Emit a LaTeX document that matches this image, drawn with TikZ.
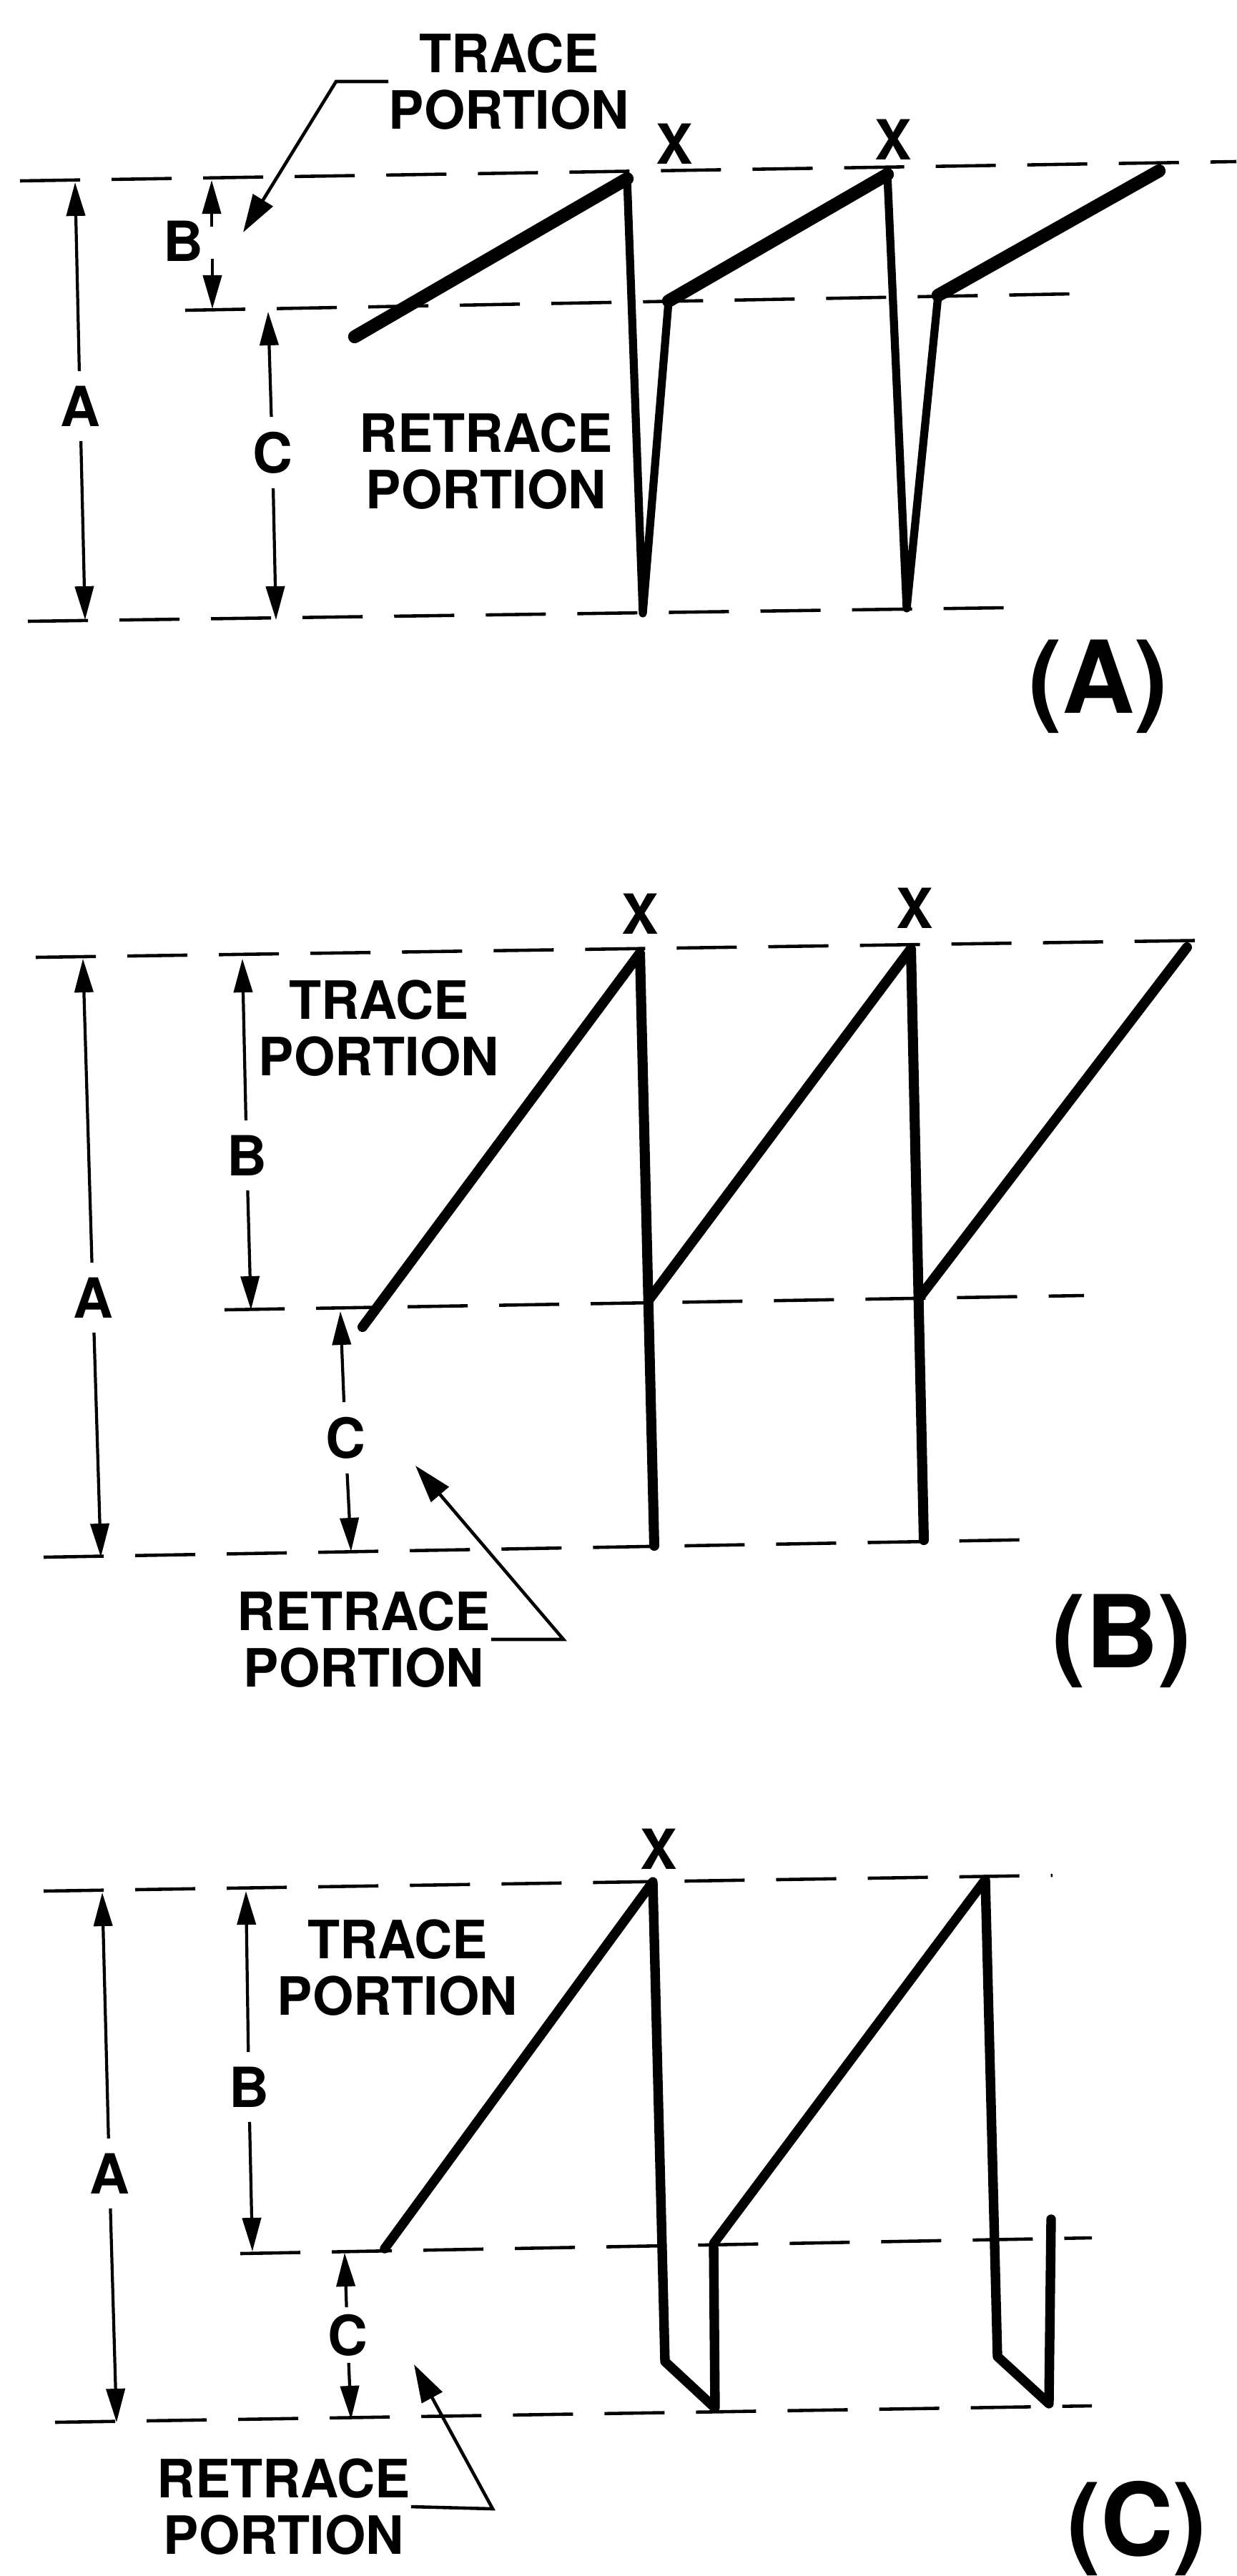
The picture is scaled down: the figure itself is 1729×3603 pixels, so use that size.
\documentclass[tikz,border=0pt]{standalone}
\usepackage{fontspec}
\setmainfont{TeX Gyre Heros}
\usetikzlibrary{arrows.meta}

\begin{document}
\begin{tikzpicture}[x=0.01cm,y=-0.01cm,>={Triangle[length=0.47cm,width=0.26cm]},
  every node/.style={font=\fontsize{21}{22.5}\selectfont\bfseries,inner sep=0pt,align=center}]
\tikzstyle{dsh}=[line width=1.3pt,dash pattern=on 0.84cm off 0.44cm]
\tikzstyle{dim}=[line width=1.2pt]
\tikzstyle{ldr}=[line width=1.3pt,-{Triangle[length=0.53cm,width=0.32cm]}]
\tikzstyle{lbl}=[font=\fontsize{22}{24}\selectfont\bfseries,inner sep=0.2cm]
\tikzstyle{xl}=[font=\fontsize{22}{24}\selectfont\bfseries]
\tikzstyle{tag}=[font=\fontsize{40}{44}\selectfont\bfseries]
\tikzstyle{trc}=[line width=5.2pt,line join=round,line cap=round]
\tikzstyle{rtr}=[line width=3.2pt,line join=round,line cap=round]
\tikzstyle{wave}=[line width=4pt,line join=round,line cap=round]
\useasboundingbox (0,0) rectangle (1729,3603);

% ---- (A)
\draw[dsh] (28,253) -- (1729,226);
\draw[dsh] (259,434) -- (1500,411);
\draw[dsh] (39,869) -- (1406,850);
\coordinate (aAt) at (105,255); \coordinate (aAb) at (119,867);
\node[lbl] (lAa) at (112,568) {A};
\draw[dim,->] (lAa) -- (aAt); \draw[dim,->] (lAa) -- (aAb);
\coordinate (bAt) at (296,252); \coordinate (bAb) at (297,432);
\coordinate (bAu) at (296,317); \coordinate (bAd) at (297,362);
\node[xl] (lAb) at (256,337) {B};
\draw[dim,->] (bAu) -- (bAt); \draw[dim,->] (bAd) -- (bAb);
\coordinate (cAt) at (375,436); \coordinate (cAb) at (386,867);
\node[lbl] (lAc) at (381,633) {C};
\draw[dim,->] (lAc) -- (cAt); \draw[dim,->] (lAc) -- (cAb);
\draw[trc] (496,471) -- (877,250);
\draw[rtr] (877,250) -- (899,858) -- (935,421);
\draw[trc] (935,421) -- (1241,244);
\draw[rtr] (1241,244) -- (1268,851) -- (1312,413);
\draw[trc] (1312,413) -- (1621,239);
\node[xl] (xA1) at (943,201) {X};
\node[xl] (xA2) at (1249,195) {X};
\node (tA) at (712,114) {TRACE\\PORTION};
\coordinate (kA) at (470,114); \coordinate (pA) at (340,325);
\draw[ldr] (tA.west) -- (kA) -- (pA);
\node (rA) at (680,645) {RETRACE\\PORTION};
\node[tag] (gA) at (1536,960) {(A)};

% ---- (B)
\draw[dsh] (50,1339) -- (1704,1315);
\draw[dsh] (314,1832) -- (1516,1812);
\draw[dsh] (61,2178) -- (1467,2153);
\coordinate (aBt) at (116,1341); \coordinate (aBb) at (141,2178);
\node[lbl] (lBa) at (130,1815) {A};
\draw[dim,->] (lBa) -- (aBt); \draw[dim,->] (lBa) -- (aBb);
\coordinate (bBt) at (339,1341); \coordinate (bBb) at (351,1832);
\node[lbl] (lBb) at (345,1616) {B};
\draw[dim,->] (lBb) -- (bBt); \draw[dim,->] (lBb) -- (bBb);
\coordinate (cBt) at (476,1834); \coordinate (cBb) at (491,2170);
\node[lbl] (lBc) at (483,2011) {C};
\draw[dim,->] (lBc) -- (cBt); \draw[dim,->] (lBc) -- (cBb);
\draw[wave] (507,1856) -- (895,1333) -- (915,2162);
\draw[wave] (909,1816) -- (1274,1327) -- (1292,2154);
\draw[wave] (1288,1812) -- (1660,1325);
\node[xl] (xB1) at (895,1278) {X};
\node[xl] (xB2) at (1279,1270) {X};
\node (tB) at (530,1438) {TRACE\\PORTION};
\node (rB) at (509,2293) {RETRACE\\PORTION};
\coordinate (kB) at (788,2293); \coordinate (pB) at (581,2050);
\draw[ldr] (rB.east) -- (kB) -- (pB);
\node[tag] (gB) at (1569,2295) {(B)};

% ---- (C)
\draw[dsh] (61,2645) -- (1472,2623);
\draw[dsh] (336,3152) -- (1527,3130);
\draw[dsh] (77,3388) -- (1527,3365);
\coordinate (aCt) at (143,2647); \coordinate (aCb) at (163,3388);
\node[lbl] (lCa) at (153,3040) {A};
\draw[dim,->] (lCa) -- (aCt); \draw[dim,->] (lCa) -- (aCb);
\coordinate (bCt) at (344,2645); \coordinate (bCb) at (353,3149);
\node[lbl] (lCb) at (348,2919) {B};
\draw[dim,->] (lCb) -- (bCt); \draw[dim,->] (lCb) -- (bCb);
\coordinate (cCt) at (482,3151); \coordinate (cCb) at (491,3384);
\node[lbl,inner sep=0.09cm] (lCc) at (486,3266) {C};
\draw[dim,->] (lCc) -- (cCt); \draw[dim,->] (lCc) -- (cCb);
\draw[wave,line width=3.8pt] (538,3145) -- (913,2632) -- (930,3303) -- (1000,3368) -- (998,3138)
  -- (1378,2629) -- (1395,3296) -- (1467,3362) -- (1470,3104);
\node[xl] (xC1) at (921,2586) {X};
\node (tC) at (556,2752) {TRACE\\PORTION};
\node (rC) at (397,3506) {RETRACE\\PORTION};
\coordinate (kC) at (689,3509); \coordinate (pC) at (579,3307);
\draw[ldr] (rC.east) -- (kC) -- (pC);
\node[tag] (gC) at (1590,3536) {(C)};
\end{tikzpicture}
\end{document}
